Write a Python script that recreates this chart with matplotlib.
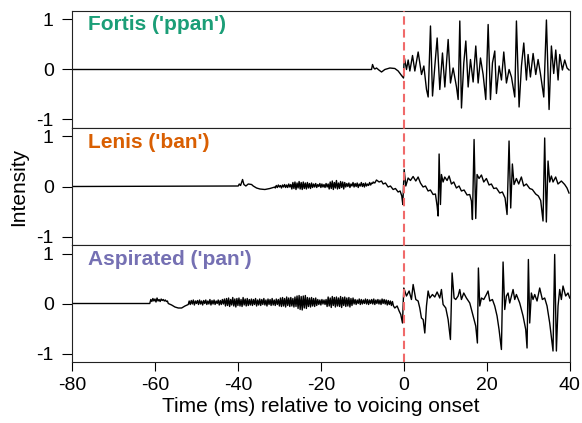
import matplotlib
matplotlib.use("Agg")
import matplotlib.pyplot as plt
import numpy as np

plt.rcParams['font.family'] = ['Liberation Sans', 'DejaVu Sans']
plt.rcParams['axes.unicode_minus'] = False

# sample step (ms) of the hand-read noise stretches
step = 0.25

# Fortis ('ppan') - key points
fortis_t = [-80, -7.79, -7.55, -7.23, -6.99, -6.59, -6.02, -5.38, -4.58, -3.37, -2.17, -1.37, -0.56, -0.08,
            0.08, 0.64, 1.04, 1.45, 2.09, 2.65, 3.45, 4.26, 4.82, 5.46, 5.86, 6.42, 6.91, 7.47, 8.03, 8.67,
            9.31, 9.88, 10.68, 11.24, 11.88, 12.69, 13.09, 13.49, 13.89, 14.45, 14.94, 15.50, 16.06, 16.70,
            17.34, 17.91, 18.47, 19.11, 19.75, 20.32, 20.88, 21.36, 21.92, 22.32, 22.97, 23.53, 24.09, 24.73,
            25.37, 25.94, 26.74, 27.14, 27.78, 28.35, 28.91, 29.55, 29.95, 30.51, 31.16, 31.80, 32.36, 32.92,
            33.73, 34.37, 35.01, 35.57, 36.13, 36.62, 37.18, 37.58, 38.22, 38.78, 39.34, 39.83]
fortis_y = [0, 0.0, 0.10, 0.03, 0.01, 0.03, -0.01, -0.05, 0.0, 0.03, 0.02, -0.03, -0.12, -0.17,
            0.25, 0.0, 0.19, -0.03, 0.28, -0.03, 0.35, -0.10, 0.07, -0.40, -0.55, 0.87, -0.53, 0.07, 0.63, -0.40,
            0.33, -0.35, 0.60, -0.27, 0.03, -0.35, -0.60, 0.97, -0.77, 0.13, 0.57, -0.35, 0.20, -0.25,
            0.47, -0.27, 0.23, -0.10, -0.60, 0.90, -0.60, 0.13, 0.37, -0.48, 0.07, -0.21, 0.35, -0.27,
            0.0, -0.15, -0.55, 0.97, -0.75, 0.07, 0.53, -0.21, 0.30, -0.15, 0.32, -0.10, 0.20, -0.08,
            -0.55, 0.99, -0.80, 0.47, -0.08, 0.39, -0.21, 0.30, -0.01, 0.19, 0.03, -0.01]

# Lenis ('ban')
lenis_t = [-80, -39.92, -39.68, -39.36, -38.88, -38.56, -38.08, -37.51, -36.71, -36.31, -35.51, -34.70,
           -33.50, -32.30, -31.09,
           -7.40, -7.00, -6.60, -5.96, -5.39, -4.99, -4.43, -3.79, -3.23, -2.58, -2.02, -1.38, -0.90, -0.50,
           -0.25, 0.07, 0.47, 1.03, 1.59, 2.23, 2.88, 3.44, 4.00, 4.64, 5.21, 5.85, 6.41, 7.05, 7.61, 8.02,
           8.26, 8.50, 8.82, 9.06, 9.46, 9.86, 10.42, 10.91, 11.47, 12.03, 12.67, 13.31, 13.88, 14.52, 15.24,
           15.88, 16.29, 16.53, 16.93, 17.33, 17.65, 18.13, 18.70, 19.26, 19.90, 20.54, 21.10, 21.67, 22.31,
           23.11, 23.75, 24.40, 24.88, 25.36, 25.76, 26.16, 26.56, 27.13, 27.69, 28.33, 28.89, 29.54, 30.34,
           30.98, 31.78, 32.43, 32.99, 33.55, 33.95, 34.35, 34.76, 35.16, 35.56, 35.96, 36.60, 37.16, 37.97,
           38.77, 39.33, 39.81]
lenis_y = [0, 0.01, 0.05, 0.02, 0.14, 0.04, 0.01, 0.05, 0.04, 0.01, -0.03, -0.05,
           -0.06, -0.04, -0.01,
           0.09, 0.07, 0.13, 0.09, 0.11, 0.05, 0.07, -0.01, 0.01, -0.06, -0.04, -0.11, -0.09, -0.19,
           -0.36, 0.34, 0.01, 0.17, 0.12, 0.20, 0.11, 0.19, 0.07, -0.01, 0.01, -0.09, -0.07, -0.16, -0.15, -0.39,
           -0.59, 0.65, -0.36, 0.24, 0.09, 0.19, 0.12, 0.21, 0.05, 0.09, -0.03, 0.01, -0.09, -0.07, -0.17,
           -0.16, -0.29, -0.66, 0.94, -0.64, 0.24, 0.16, 0.23, 0.09, 0.16, 0.03, 0.05, -0.04, -0.03,
           -0.13, -0.11, -0.23, -0.56, 0.91, -0.43, 0.45, 0.04, 0.16, 0.05, 0.19, 0.01, 0.05, -0.04,
           -0.06, -0.15, -0.19, -0.28, -0.69, 0.97, -0.71, 0.51, 0.09, 0.21, 0.09, 0.19, 0.05, 0.11,
           0.04, -0.03, -0.13]
lenis_noise_start = -31.0
lenis_noise = [-0.03, 0.02, -0.02, 0.03, -0.01, 0.02, -0.03, 0.03, -0.01, 0.04, -0.02, 0.03, -0.02, 0.05, -0.01, 0.04,
               -0.05, 0.08, -0.04, 0.09, -0.06, 0.07, -0.03, 0.10, -0.05, 0.08, -0.06, 0.09, -0.04, 0.07, -0.05, 0.08,
               -0.03, 0.06, -0.04, 0.07,
               -0.02, 0.05, -0.01, 0.06, -0.02, 0.04, 0.0, 0.06, -0.02, 0.05, -0.01, 0.04, -0.02, 0.06, -0.01, 0.05,
               -0.05, 0.09, -0.04, 0.11, -0.06, 0.08, -0.03, 0.12, -0.05, 0.07, -0.04, 0.10, -0.02, 0.09, -0.05, 0.08,
               -0.01, 0.06, 0.0, 0.07, -0.02, 0.05, 0.01, 0.08, -0.01, 0.06, 0.0, 0.07, -0.02, 0.05, 0.01, 0.08,
               0.0, 0.06, -0.01, 0.07, 0.01, 0.05, 0.02, 0.08, 0.03, 0.07, 0.06]

# Aspirated ('pan')
asp_t = [-80, -56.79, -55.98, -55.18, -54.38, -53.57, -52.77, -51.97,
         -2.18, -1.62, -1.14, -0.74, -0.33, -0.01,
         0.63, 1.27, 1.83, 2.24, 2.88, 3.44, 3.84, 4.24, 4.65, 5.05, 5.45, 5.85, 6.25, 6.89, 7.46, 8.02,
         8.66, 9.06, 9.46, 10.11, 10.67, 11.23, 11.63, 12.11, 12.51, 13.08, 13.48, 13.88, 14.44, 15.08,
         15.89, 16.69, 17.33, 17.73, 17.97, 18.30, 18.70, 19.26, 19.90, 20.30, 20.71, 21.35, 21.91, 22.47,
         22.95, 23.52, 23.92, 24.32, 24.72, 25.12, 25.52, 26.33, 26.73, 27.13, 27.93, 28.74, 29.38, 29.70,
         30.02, 30.34, 30.74, 31.14, 31.55, 32.11, 32.75, 33.39, 33.95, 34.52, 35.16, 35.64, 35.96, 36.36,
         36.77, 37.17, 37.57, 37.97, 38.37, 39.01, 39.57, 39.98]
asp_y = [0, 0.0, -0.03, -0.07, -0.09, -0.09, -0.05, -0.02,
         -0.09, -0.05, -0.15, -0.22, -0.39, 0.31,
         0.15, 0.25, 0.08, 0.38, 0.08, 0.05, -0.09, -0.29, -0.32, -0.59, -0.05, 0.25, 0.11, 0.18, 0.13, 0.23,
         0.11, 0.28, -0.02, -0.09, -0.32, -0.72, 0.61, 0.11, 0.08, 0.15, 0.28, 0.08, 0.21, 0.11,
         0.01, -0.25, -0.45, -0.79, 0.71, -0.05, 0.11, 0.08, 0.18, 0.25, 0.05, 0.08, -0.05, -0.25,
         -0.52, -0.92, 0.83, -0.12, 0.15, 0.21, 0.01, 0.28, 0.08, 0.18, 0.01, -0.25, -0.52, -0.89,
         0.88, -0.39, 0.21, 0.08, 0.18, 0.05, 0.31, 0.08, 0.11, -0.05, -0.39, -0.72, -0.95, 0.98,
         -0.95, -0.05, 0.28, 0.08, 0.35, 0.15, 0.21, 0.11]
asp_noise1_start = -61.25
asp_noise1 = [0.0, 0.08, 0.04, 0.10, 0.05, 0.09, 0.03, 0.11, 0.05, 0.08, 0.04, 0.09, 0.06, 0.08, 0.05, 0.07,
              0.04, 0.05]
asp_noise2_start = -51.75
asp_noise2 = [0.05, -0.02, 0.06, -0.01, 0.07, -0.03, 0.05, 0.0, 0.06, -0.02, 0.07, -0.01, 0.05, -0.03, 0.06, 0.0,
              0.07, -0.02, 0.05, -0.01, 0.08, -0.03, 0.06, -0.01, 0.07, -0.02, 0.05, 0.0, 0.07, -0.03, 0.06, -0.02,
              0.08, -0.01,
              0.09, -0.05, 0.10, -0.04, 0.11, -0.06, 0.08, -0.03, 0.12, -0.05, 0.09, -0.07, 0.10, -0.04, 0.11, -0.05,
              0.08, -0.06, 0.12, -0.03, 0.09, -0.05, 0.10, -0.04, 0.08,
              -0.03, 0.09, -0.04, 0.08, -0.02, 0.10, -0.05, 0.07, -0.03, 0.09, -0.04, 0.08, -0.02, 0.10, -0.03, 0.07,
              -0.05, 0.09, -0.02, 0.08, -0.04, 0.10, -0.03, 0.07, -0.04, 0.09, -0.02, 0.08, -0.05,
              0.11, -0.06, 0.12, -0.05, 0.10, -0.07, 0.13, -0.04, 0.11, -0.06, 0.12, -0.05, 0.10, -0.07, 0.13, -0.06,
              0.15, -0.10, 0.16, -0.12, 0.14, -0.13, 0.15, -0.09, 0.16, -0.10,
              0.12, -0.06, 0.11, -0.07, 0.12, -0.05, 0.10, -0.06, 0.11, -0.04,
              0.08, -0.02, 0.07, -0.03, 0.08, -0.01, 0.07, -0.02, 0.08,
              -0.06, 0.13, -0.05, 0.11, -0.08, 0.14, -0.04, 0.12, -0.07, 0.13, -0.05, 0.11, -0.06, 0.14, -0.08, 0.12,
              -0.04, 0.13, -0.06, 0.11, -0.05, 0.12, -0.07, 0.10, -0.04, 0.11,
              -0.01, 0.08, -0.02, 0.07, 0.0, 0.09, -0.02, 0.08, -0.01, 0.07, 0.0, 0.09, -0.01, 0.08, -0.02, 0.07,
              0.0, 0.08, -0.01, 0.09, -0.02, 0.07, 0.0, 0.08, -0.01, 0.07, -0.02, 0.09, 0.0, 0.08, -0.01, 0.07,
              -0.03, 0.06, -0.02, 0.05, -0.04, 0.04, -0.05]

labels = ["Fortis ('ppan')", "Lenis ('ban')", "Aspirated ('pan')"]
colors = ["#1b9e77", "#d95f02", "#7570b3"]
xticks = [-80, -60, -40, -20, 0, 20, 40]
yticks = [-1, 0, 1]


def build(key_t, key_y, noises):
    """Merge key points and noise stretches into one time-ordered trace."""
    t = list(key_t)
    y = list(key_y)
    for start, vals in noises:
        t += list(start + step * np.arange(len(vals)))
        y += list(vals)
    t = np.array(t)
    y = np.array(y)
    order = np.argsort(t, kind="stable")
    return t[order], y[order]


traces = [
    build(fortis_t, fortis_y, []),
    build(lenis_t, lenis_y, [(lenis_noise_start, lenis_noise)]),
    build(asp_t, asp_y, [(asp_noise1_start, asp_noise1), (asp_noise2_start, asp_noise2)]),
]

fig = plt.figure(figsize=(5.82, 4.23), dpi=100)
left, width = 0.1237, 0.8553
bottoms = [0.6974, 0.4208, 0.1442]
h = 0.2766

for i, (t, y) in enumerate(traces):
    ax = fig.add_axes([left, bottoms[i], width, h])
    ax.plot(t, y, color="black", lw=1.0)
    ax.axvline(0, color="#f06a6a", lw=1.5, dashes=(4, 2.2), zorder=3)
    ax.set_xlim(-80, 40)
    ax.set_ylim(-1.17, 1.17)
    ax.set_yticks(yticks)
    ax.set_yticklabels([str(v) for v in yticks])
    ax.tick_params(axis="y", direction="out", length=7.2, width=0.8, pad=6, labelsize=14)
    ax.set_xticks(xticks)
    if i < 2:
        ax.tick_params(axis="x", bottom=False, labelbottom=False)
    else:
        ax.tick_params(axis="x", direction="out", length=6.5, width=0.8, pad=4.5, labelsize=14)
        ax.set_xlabel("Time (ms) relative to voicing onset", fontsize=15, labelpad=2)
    for s in ax.spines.values():
        s.set_linewidth(0.8)
        s.set_color("#222222")
    ax.text(-76.2, 0.78, labels[i], color=colors[i], fontsize=15, fontweight="bold", va="baseline", ha="left")
    if i == 1:
        ax.set_ylabel("Intensity", fontsize=15, labelpad=6)

fig.savefig("out.png", dpi=100)
